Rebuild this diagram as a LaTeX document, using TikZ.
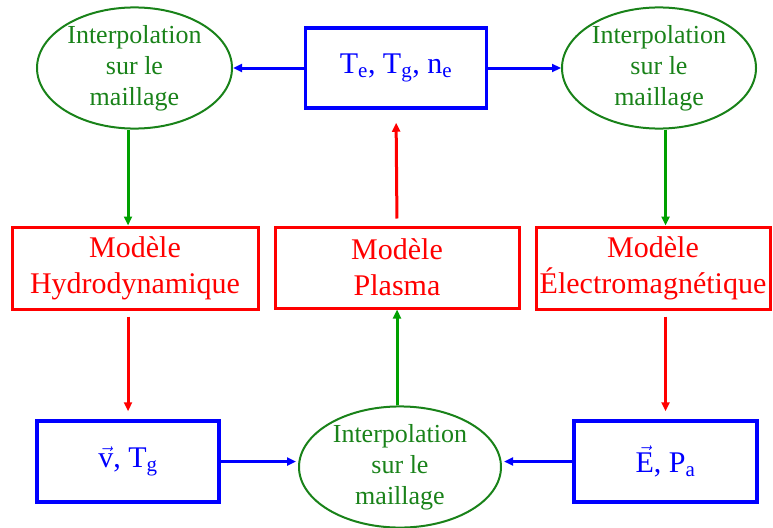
\documentclass[tikz,border=0pt]{standalone}
\usepackage{fontspec}
\setmainfont{Liberation Serif}
\newfontfamily\policetimes{Liberation Serif}
\usetikzlibrary{shapes.geometric,arrows.meta}
\definecolor{vert}{RGB}{25,130,25}
\definecolor{vertclair}{RGB}{0,160,0}
\tikzset{
  rdbox/.style={draw=red,text=red,line width=3pt,inner sep=2pt,align=center,
    font=\policetimes\fontsize{30}{36}\selectfont},
  blbox/.style={draw=blue,text=blue,line width=3.5pt,inner sep=2pt,align=center,
    font=\policetimes\fontsize{30}{36}\selectfont},
  grell/.style={ellipse,draw=vert,text=vert,line width=2pt,inner sep=0pt,align=center,
    font=\policetimes\fontsize{26}{31}\selectfont},
  fl/.style={line width=3pt,-{Triangle[length=9pt,width=8pt]}},
  rdarr/.style={fl,red},
  blarr/.style={fl,blue},
  grarr/.style={fl,vertclair}
}
\begin{document}
\begin{tikzpicture}[x=1pt,y=-1pt]
	\useasboundingbox (0,0) rectangle (773,527);
	\node[grell,minimum width=195,minimum height=120] (interpA) at (134.5,68) {Interpolation\\sur le\\maillage};
	\node[blbox,minimum width=181,minimum height=80] (Tne) at (396,68) {T\textsubscript{e}, T\textsubscript{g}, n\textsubscript{e}};
	\node[grell,minimum width=194,minimum height=120] (interpB) at (659,68) {Interpolation\\sur le\\maillage};
	\node[rdbox,minimum width=246,minimum height=82] (hydro) at (135,268) {Modèle\\Hydrodynamique};
	\node[rdbox,minimum width=244,minimum height=81] (plasma) at (397,267.5) {Modèle\\Plasma};
	\node[rdbox,minimum width=234,minimum height=82] (elec) at (653,268) {Modèle\\Électromagnétique};
	\node[blbox,minimum width=182,minimum height=81] (vT) at (128,461.5) {$\vec{\mbox{v}}$, T\textsubscript{g}};
	\node[grell,minimum width=202,minimum height=118] (interpC) at (400,467) {Interpolation\\sur le\\maillage};
	\node[blbox,minimum width=183,minimum height=81] (EP) at (665.5,461.5) {$\vec{\mbox{E}}$, P\textsubscript{a}};
	\draw[blarr] (Tne.west) -- (interpA.east);
	\draw[blarr] (Tne.east) -- (interpB.west);
	\draw[grarr] (interpA.south -| vT.north) -- (hydro.north -| vT.north);
	\draw[grarr] (interpB.south -| EP.north) -- (elec.north -| EP.north);
	\draw[rdarr,shorten <=6pt,shorten >=8pt] (hydro.south -| vT.north) -- (vT.north);
	\draw[rdarr,shorten <=6pt,shorten >=8pt] (elec.south -| EP.north) -- (EP.north);
	\draw[rdarr,shorten <=7pt,shorten >=13pt] (plasma.north) -- (Tne.south);
	\draw[grarr] (interpC.north -| plasma.south) -- (plasma.south);
	\draw[blarr,shorten >=2pt] (vT.east) -- (interpC.west |- vT.east);
	\draw[blarr,shorten >=2pt] (EP.west) -- (interpC.east |- EP.west);
\end{tikzpicture}
\end{document}
